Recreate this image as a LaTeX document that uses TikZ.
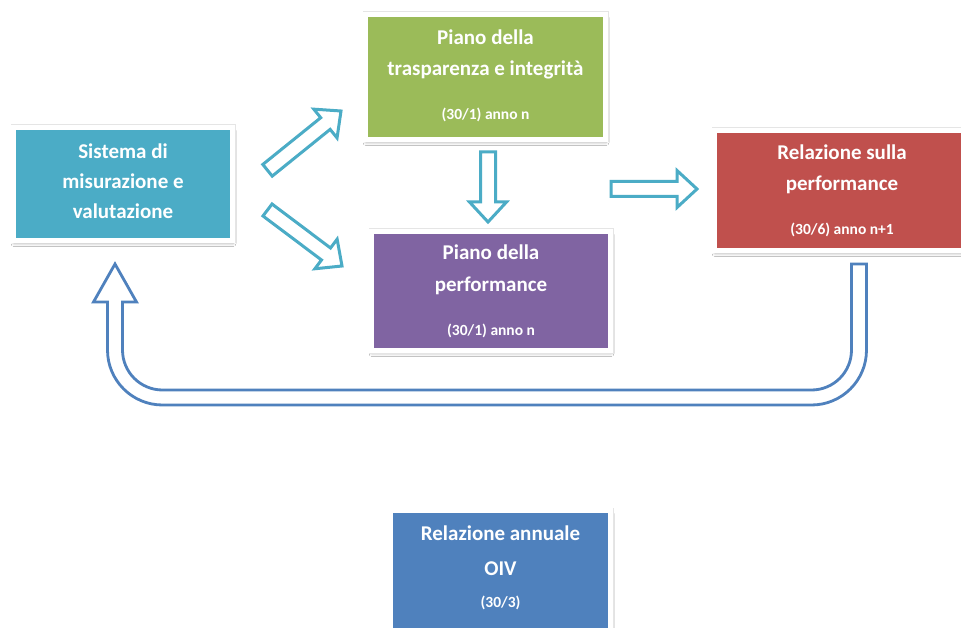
\documentclass[tikz,border=0pt]{standalone}
\usepackage{fontspec}
\setmainfont{Carlito}
\usetikzlibrary{calc,shadows.blur}
\definecolor{cAqua}{HTML}{4BACC6}
\definecolor{cOlive}{HTML}{9BBB59}
\definecolor{cPurple}{HTML}{8064A2}
\definecolor{cRed}{HTML}{C0504D}
\definecolor{cBlue}{HTML}{4F81BD}
\tikzset{
  panel/.style={rectangle, inner sep=0pt, outer sep=0pt,
    blur shadow={shadow xshift=0.5pt, shadow yshift=-3pt, shadow blur radius=3pt, shadow opacity=30},
    preaction={draw=black!10, line width=6pt},
    draw=white, line width=5pt},
  ttl/.style={text=white, font=\fontsize{21}{25}\selectfont\bfseries, anchor=base, inner sep=0pt},
  sub/.style={text=white, font=\fontsize{15.5}{18}\selectfont\bfseries, anchor=base, inner sep=0pt},
  barrow/.style={draw=cAqua, line width=3pt, fill=white, line join=miter},
  uarrow/.style={draw=cBlue, line width=2.8pt, fill=white, line join=miter}
}
\def\baS{7.5pt}
\def\baH{18.5pt}
\def\baL{20pt}
\newcommand\blockarrow[2]{%
  \coordinate (bah) at ($(#2)!\baL!(#1)$);
  \draw[barrow] ($(#1)!\baS!-90:(#2)$) -- ($(bah)!\baS!-90:(#2)$) -- ($(bah)!\baH!-90:(#2)$) -- (#2)
    -- ($(bah)!\baH!90:(#2)$) -- ($(bah)!\baS!90:(#2)$) -- ($(#1)!\baS!90:(#2)$) -- cycle;
}
\begin{document}
\begin{tikzpicture}[x=1pt,y=-1pt]
\useasboundingbox (0,0) rectangle (961,628);
\fill[white] (0,0) rectangle (961,628);

% panels
\node[panel, fill=cAqua,   minimum width=219pt, minimum height=113pt] (sis) at (123,184) {};
\node[panel, fill=cOlive,  minimum width=240pt, minimum height=125pt] (tra) at (485.5,77) {};
\node[panel, fill=cPurple, minimum width=239pt, minimum height=119pt] (pia) at (491,291) {};
\node[panel, fill=cRed,    minimum width=255pt, minimum height=120pt] (rel) at (842,190.5) {};
\node[panel, fill=cBlue,   minimum width=220pt, minimum height=124pt] (oiv) at (500.5,572.5) {};

% texts
\node[ttl] (sis1) at (123,158.3) {Sistema di};
\node[ttl] (sis2) at (123,188.3) {misurazione e};
\node[ttl] (sis3) at (123,218.3) {valutazione};

\node[ttl] (tra1) at (485.5,45) {Piano della};
\node[ttl] (tra2) at (485.5,76) {trasparenza e integrità};
\node[sub] (tra3) at (485.5,120) {(30/1) anno n};

\node[ttl] (pia1) at (491,260) {Piano della};
\node[ttl] (pia2) at (491,291.5) {performance};
\node[sub] (pia3) at (491,335) {(30/1) anno n};

\node[ttl] (rel1) at (842,160) {Relazione sulla};
\node[ttl] (rel2) at (842,191) {performance};
\node[sub] (rel3) at (842,235) {(30/6) anno n+1};

\node[ttl] (oiv1) at (500.5,540) {Relazione annuale};
\node[ttl] (oiv2) at (500.5,575) {OIV};
\node[sub] (oiv3) at (500.5,607) {(30/3)};

% block arrows
\coordinate (aAs) at (267.5,170.3);
\coordinate (aAe) at (341,111);
\coordinate (aBs) at (267.5,210);
\coordinate (aBe) at (342,266);
\coordinate (aCs) at (488,152);
\coordinate (aCe) at (488,222);
\coordinate (aDs) at (611,189);
\coordinate (aDe) at (697,189);
\blockarrow{aAs}{aAe}
\blockarrow{aBs}{aBe}
\blockarrow{aCs}{aCe}
\blockarrow{aDs}{aDe}

% U-turn arrow from Relazione back to Sistema
\coordinate (uS) at (859,264);
\coordinate (uE) at (115,264);
\draw[uarrow] ($(uS)+(-7.5,0)$) -- ($(uS)+(7.5,0)$) -- (866.5,350)
  .. controls (866.5,380.4) and (841.9,405) .. (811.5,405) -- (162.5,405)
  .. controls (132.1,405) and (107.5,380.4) .. (107.5,350) -- (107.5,302) -- (93.5,302) -- (uE)
  -- (136.5,302) -- (122.5,302) -- (122.5,350)
  .. controls (122.5,372.1) and (140.4,390) .. (162.5,390) -- (811.5,390)
  .. controls (833.6,390) and (851.5,372.1) .. (851.5,350) -- cycle;
\end{tikzpicture}
\end{document}
